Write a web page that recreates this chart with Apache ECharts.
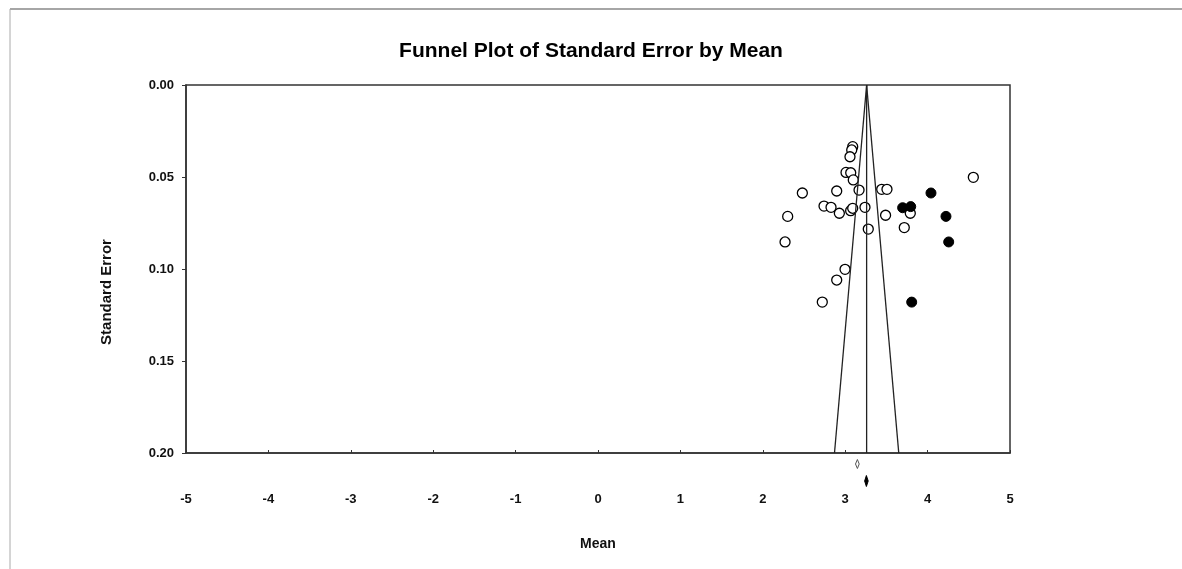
<!DOCTYPE html>
<html lang="en">
<head>
    <meta charset="UTF-8">
    <title>Funnel Plot</title>
    <script src="https://cdn.jsdelivr.net/npm/echarts@6/dist/echarts.min.js"></script>
    <style>
        html, body { margin: 0; padding: 0; background: #fff; }
        #main { width: 1182px; height: 569px; }
    </style>
</head>
<body>
<div id="main"></div>
<script type="text/javascript">
    // observed studies [mean, standard error]
    const observedStudies = [
        [4.555, 0.0502], [2.48, 0.0587], [2.897, 0.0576], [3.091, 0.0335],
        [3.079, 0.0353], [3.058, 0.039], [3.01, 0.0475], [3.067, 0.0477],
        [3.098, 0.0516], [3.168, 0.0571], [3.443, 0.0567], [3.507, 0.0567],
        [2.743, 0.0658], [2.828, 0.0665], [2.929, 0.0697], [3.066, 0.0683],
        [3.091, 0.067], [3.24, 0.0665], [3.49, 0.0708], [3.79, 0.0697],
        [2.302, 0.0714], [3.28, 0.0783], [3.717, 0.0775], [2.27, 0.0853],
        [2.998, 0.1002], [2.897, 0.106], [2.722, 0.118]
    ]
    // imputed studies (trim and fill)
    const imputedStudies = [
        [4.041, 0.0587], [3.697, 0.0667], [3.795, 0.0661],
        [4.223, 0.0714], [4.256, 0.0853], [3.807, 0.118]
    ]
    // funnel: apex mean and bottom limits at SE 0.20
    const funnelMean = 3.26
    const funnelApex = [[funnelMean, 0], [funnelMean, 0.2]]
    const funnelLeft = [[funnelMean, 0], [2.87, 0.2]]
    const funnelRight = [[funnelMean, 0], [3.65, 0.2]]
    // combined effects [lower, point, upper]: observed, adjusted
    const combinedEffects = [[3.125, 3.148, 3.17], [3.236, 3.257, 3.279]]
    const yTicks = [0, 0.05, 0.1, 0.15, 0.2]

    const chart = echarts.init(document.getElementById('main'))
    const lineStyle = { color: '#222', width: 1.3 }
    const font = 'Liberation Sans, Arial, sans-serif'

    const option = {
        animation: false,
        backgroundColor: '#fff',
        title: {
            text: 'Funnel Plot of Standard Error by Mean',
            left: 'center',
            top: 36,
            textStyle: { fontFamily: font, fontSize: 21, fontWeight: 'bold', color: '#000' }
        },
        grid: {
            left: 186, top: 85, right: 172, bottom: 116,
            show: true, borderColor: '#333', borderWidth: 1.5
        },
        xAxis: {
            type: 'value', min: -5, max: 5, interval: 1,
            name: 'Mean', nameLocation: 'middle', nameGap: 84,
            nameTextStyle: { fontFamily: font, fontSize: 14, fontWeight: 'bold', color: '#111' },
            axisLine: { onZero: false, lineStyle: { color: '#333', width: 1.5 } },
            axisTick: { inside: true, length: 3, lineStyle: { color: '#333' } },
            axisLabel: { margin: 40, fontFamily: font, fontSize: 13, fontWeight: 'bold', color: '#111' },
            splitLine: { show: false }
        },
        yAxis: {
            type: 'value', min: yTicks[0], max: yTicks[yTicks.length - 1], interval: 0.05, inverse: true,
            axisLine: { show: true, onZero: false, lineStyle: { color: '#333', width: 1.5 } },
            axisTick: { show: true, length: 4, lineStyle: { color: '#333' } },
            axisLabel: {
                margin: 12, fontFamily: font, fontSize: 13, fontWeight: 'bold', color: '#111',
                formatter: v => v.toFixed(2)
            },
            splitLine: { show: false }
        },
        graphic: [
            { type: 'line', shape: { x1: 10, y1: 9, x2: 1182, y2: 9 }, style: { stroke: '#888', lineWidth: 1.5 } },
            { type: 'line', shape: { x1: 10, y1: 9, x2: 10, y2: 569 }, style: { stroke: '#aaa', lineWidth: 1 } },
            {
                type: 'text', x: 107, y: 292, rotation: Math.PI / 2,
                style: {
                    text: 'Standard Error', font: 'bold 15px ' + font, fill: '#111',
                    textAlign: 'center', textVerticalAlign: 'middle'
                }
            }
        ],
        series: [
            { type: 'line', data: funnelApex, symbol: 'none', lineStyle: lineStyle, silent: true },
            { type: 'line', data: funnelLeft, symbol: 'none', lineStyle: lineStyle, silent: true },
            { type: 'line', data: funnelRight, symbol: 'none', lineStyle: lineStyle, silent: true },
            {
                type: 'scatter', data: observedStudies, symbol: 'circle', symbolSize: 10,
                itemStyle: { color: '#fff', borderColor: '#000', borderWidth: 1.3, opacity: 1 }
            },
            {
                type: 'scatter', data: imputedStudies, symbol: 'circle', symbolSize: 10,
                itemStyle: { color: '#000', borderColor: '#000', borderWidth: 1, opacity: 1 }
            },
            {
                type: 'custom', clip: false, data: combinedEffects,
                renderItem: function (params, api) {
                    const lo = api.coord([api.value(0), 0.2])
                    const mid = api.coord([api.value(1), 0.2])
                    const hi = api.coord([api.value(2), 0.2])
                    const filled = params.dataIndex === 1
                    const cy = mid[1] + (filled ? 28 : 11)
                    const hh = filled ? 5.5 : 4.5
                    return {
                        type: 'polygon',
                        shape: { points: [[lo[0], cy], [mid[0], cy - hh], [hi[0], cy], [mid[0], cy + hh]] },
                        style: { fill: filled ? '#000' : '#fff', stroke: filled ? '#000' : '#555', lineWidth: 1 }
                    }
                }
            }
        ]
    }
    chart.setOption(option)
</script>
</body>
</html>
